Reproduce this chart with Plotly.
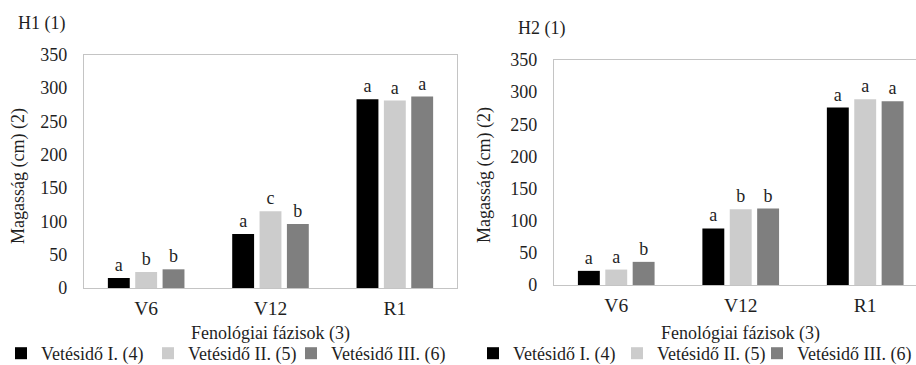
import plotly.graph_objects as go

# Phenological phases on the category axis
phases = ["V6", "V12", "R1"]

# Sowing-date series
series_names = ["Vetésidő I. (4)", "Vetésidő II. (5)", "Vetésidő III. (6)"]
series_colors = ["#000000", "#cccccc", "#7f7f7f"]

# Plant height (cm), hybrid H1
h1_sowing_1 = [15, 81, 283]
h1_sowing_2 = [24, 115, 281]
h1_sowing_3 = [28, 96, 287]
h1_letters_1 = ["a", "a", "a"]
h1_letters_2 = ["b", "c", "a"]
h1_letters_3 = ["b", "b", "a"]

# Plant height (cm), hybrid H2
h2_sowing_1 = [22, 88, 276]
h2_sowing_2 = [24, 118, 289]
h2_sowing_3 = [36, 119, 286]
h2_letters_1 = ["a", "a", "a"]
h2_letters_2 = ["a", "b", "a"]
h2_letters_3 = ["b", "b", "a"]

y_ticks = [0, 50, 100, 150, 200, 250, 300, 350]

W, H = 916, 365
FONT = "Liberation Serif, Times New Roman, serif"
TXT = "#1f1f1f"
FRAME = "#c4c4c4"


def px_x(p):
    return p / W


def px_y(p):
    return 1 - p / H


# left edge (px) of each legend entry's text, per panel
legend_text_left = [[41, 188, 331], [513, 657, 797]]

fig = go.Figure()

panels = [
    ("x", "y", [h1_sowing_1, h1_sowing_2, h1_sowing_3],
     [h1_letters_1, h1_letters_2, h1_letters_3]),
    ("x2", "y2", [h2_sowing_1, h2_sowing_2, h2_sowing_3],
     [h2_letters_1, h2_letters_2, h2_letters_3]),
]

legend_layouts = {}
k = 0
for p, (xa, ya, values, letters) in enumerate(panels):
    for s, (name, color, vals, lab) in enumerate(
            zip(series_names, series_colors, values, letters)):
        k += 1
        leg = "legend" if k == 1 else f"legend{k}"
        fig.add_trace(go.Bar(
            x=phases, y=vals, name=name, xaxis=xa, yaxis=ya, legend=leg,
            marker=dict(color=color, line=dict(width=0)),
            text=lab, textposition="outside", cliponaxis=False,
            textfont=dict(family=FONT, size=18, color=TXT),
            hoverinfo="x+y+name",
        ))
        legend_layouts[leg] = dict(
            orientation="h", x=px_x(legend_text_left[p][s] - 40),
            xanchor="left", y=px_y(335), yanchor="top",
            font=dict(family=FONT, size=18, color=TXT),
            bgcolor="rgba(0,0,0,0)", itemclick=False, itemdoubleclick=False,
        )

axis_common = dict(showgrid=False, zeroline=False, showline=True,
                   linecolor=FRAME, linewidth=1.3, ticks="")
xtick_font = dict(family=FONT, size=19.5, color=TXT)
ytick_font = dict(family=FONT, size=18, color=TXT)

fig.update_layout(
    width=W, height=H,
    margin=dict(l=0, r=0, t=0, b=0, autoexpand=False),
    paper_bgcolor="white", plot_bgcolor="white",
    bargap=0.34, bargroupgap=0.2,
    showlegend=True,
    xaxis=dict(domain=[px_x(84), px_x(457)], anchor="y", mirror=True,
               ticklabelstandoff=2, tickfont=xtick_font, **axis_common),
    yaxis=dict(domain=[px_y(288), px_y(54.5)], anchor="x", mirror=True,
               range=[0, 350], tickvals=y_ticks, ticklabelstandoff=12,
               tickfont=ytick_font, **axis_common),
    xaxis2=dict(domain=[px_x(554), 1.0], anchor="y2", mirror=True,
                range=[-0.5, 2.408], ticklabelstandoff=2,
                tickfont=xtick_font, **axis_common),
    yaxis2=dict(domain=[px_y(285), px_y(60)], anchor="x2", mirror=False,
                range=[0, 350], tickvals=y_ticks, ticklabelstandoff=12,
                tickfont=ytick_font, **axis_common),
    **legend_layouts,
)

ann_font = dict(family=FONT, size=18, color=TXT)
notes = [
    ("H1 (1)", px_x(16), px_y(24), 0, "left"),
    ("H2 (1)", px_x(516), px_y(28), 0, "left"),
    ("Magasság (cm) (2)", px_x(18), px_y(176), -90, "center"),
    ("Magasság (cm) (2)", px_x(485), px_y(175), -90, "center"),
    ("Fenológiai fázisok (3)", px_x(270.5), px_y(333), 0, "center"),
    ("Fenológiai fázisok (3)", px_x(740.5), px_y(333), 0, "center"),
]
for text, x, y, ang, xanchor in notes:
    fig.add_annotation(text=text, x=x, y=y, xref="paper", yref="paper",
                       xanchor=xanchor, yanchor="middle", textangle=ang,
                       showarrow=False, font=ann_font)

fig.write_html("out.html")
